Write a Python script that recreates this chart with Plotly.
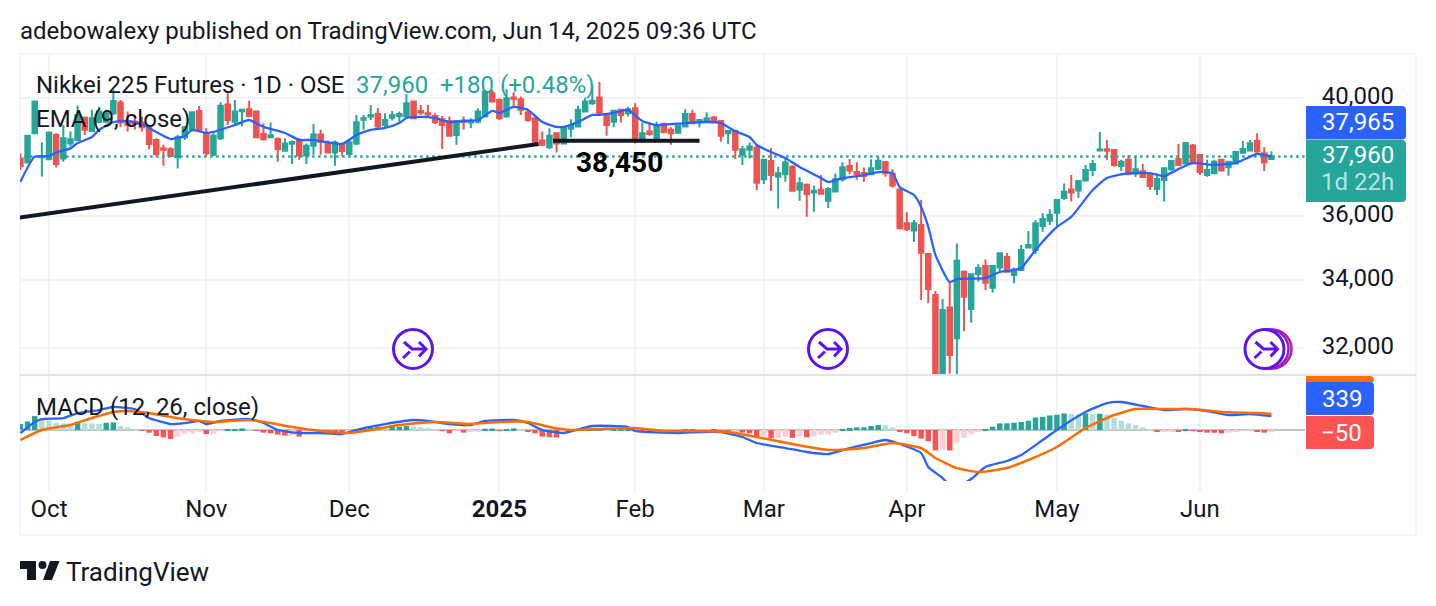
import plotly.graph_objects as go

# daily bars (log price scale)
opens = [37900, 37760, 38760, 37940, 37870, 38700, 37900, 38410, 38530, 39300,
         38840, 39160, 39160, 39460, 39840, 39160, 39160, 39130, 38970, 38530,
         38240, 38210, 37940, 38620, 38910, 39540, 38760, 38020, 38590, 39770,
         39160, 39530, 39600, 39520, 38730, 38620, 38560, 38160, 38400, 38490,
         38000, 38330, 38720, 38410, 38100, 38380, 38050, 38410, 39230, 39340,
         39430, 39050, 39300, 39360, 39340, 39870, 39540, 39460, 39360, 39250,
         39190, 38700, 39200, 39130, 39160, 39340, 40170, 39930, 39340, 40020,
         39950, 39480, 39280, 38510, 38280, 38760, 38410, 38920, 38990, 39520,
         39810, 40020, 39410, 39160, 39580, 39460, 39630, 38590, 38820, 38590,
         39080, 38880, 38780, 38990, 39430, 39160, 39160, 39310, 39190, 38760,
         38840, 38020, 38190, 38270, 37200, 37810, 37280, 37370, 37620, 36850,
         37020, 36760, 36850, 36490, 36800, 37200, 37640, 37440, 37410, 37370,
         37550, 37780, 37380, 36860, 35765, 35540, 35710, 34800, 33550, 31000,
         33180, 32280, 34250, 33130, 34185, 34425, 33770, 34385, 34710, 34150,
         34305, 35005, 34925, 35680, 35850, 36105, 36580, 36865, 36825, 37155,
         37510, 38165, 38210, 38185, 37640, 37850, 37385, 37470, 37340, 36880,
         37175, 37530, 37880, 37725, 38340, 38015, 37340, 37400, 37850, 37600,
         37725, 38095, 38165, 38495, 38075, 37880]
highs = [38070, 38710, 39900, 38450, 38820, 38760, 39050, 38820, 39730, 39340,
         39580, 39690, 39580, 40290, 39930, 39520, 39400, 39340, 39010, 38590,
         38360, 38280, 38700, 39010, 39520, 39720, 38930, 38760, 39850, 40170,
         39930, 39600, 39900, 39550, 39110, 39130, 38620, 38590, 38510, 38590,
         38410, 39080, 38880, 38510, 38510, 38440, 38550, 39400, 39400, 39750,
         39630, 39460, 39540, 39520, 40130, 39900, 39750, 39750, 39460, 39360,
         39340, 39220, 39340, 39280, 39630, 40290, 40290, 39990, 40310, 40200,
         40050, 39600, 39300, 38820, 38930, 38780, 39010, 39250, 39720, 40010,
         40460, 40570, 39440, 39580, 39610, 39690, 39810, 39130, 39130, 39160,
         39130, 38970, 39050, 39600, 39580, 39220, 39490, 39360, 39200, 38840,
         38880, 38320, 38440, 38380, 37870, 38240, 37620, 37900, 37680, 37270,
         37060, 36990, 37340, 36940, 37390, 37770, 37880, 37770, 37590, 37870,
         37960, 37800, 37530, 36890, 36120, 35870, 36520, 34820, 33670, 33430,
         33915, 35130, 34290, 34175, 34480, 34630, 34430, 34820, 34830, 34385,
         35080, 35520, 35870, 36085, 36215, 36545, 37060, 37340, 37145, 37680,
         37846, 38800, 38525, 38185, 37850, 38015, 37960, 37715, 37395, 37395,
         37565, 37815, 38390, 38445, 38390, 38050, 37850, 37850, 37850, 37790,
         38115, 38495, 38530, 38760, 38280, 38145]
lows = [37510, 37730, 38740, 37290, 37850, 37590, 37790, 38300, 38530, 38700,
        38840, 39110, 39110, 39400, 38970, 38820, 38880, 38820, 38210, 37980,
        37650, 37960, 37560, 38530, 38820, 38820, 37960, 37980, 38530, 39050,
        39080, 38990, 39340, 38590, 38510, 38620, 37790, 38140, 37710, 37850,
        37710, 38020, 38020, 38090, 37650, 37980, 37960, 38350, 38880, 39220,
        38930, 38970, 39200, 39160, 39280, 39260, 39400, 39340, 39080, 38220,
        38670, 38360, 38880, 38930, 39110, 39340, 39840, 39220, 39300, 39630,
        39400, 39160, 38320, 38320, 38220, 38100, 38390, 38620, 38970, 39500,
        39750, 39400, 38670, 38970, 39130, 39340, 38410, 38450, 38670, 38570,
        38760, 38360, 38760, 38970, 39080, 38970, 39130, 39140, 38470, 38390,
        37880, 37680, 37900, 36845, 37040, 36810, 36240, 37120, 36810, 36490,
        35980, 36140, 36710, 36260, 36770, 37120, 37370, 37180, 37120, 37340,
        37510, 37280, 36920, 35580, 35520, 35175, 33400, 33300, 30700, 30500,
        31280, 31000, 32490, 32730, 33950, 33700, 33620, 34260, 34255, 33900,
        34305, 34985, 34800, 35500, 35710, 35660, 36530, 36465, 36580, 37155,
        37310, 38165, 37850, 37620, 37475, 37365, 37275, 37275, 36845, 36680,
        36465, 37475, 37680, 37700, 37725, 37340, 37285, 37375, 37490, 37320,
        37715, 38095, 38140, 38095, 37475, 37850]
closes = [37640, 38670, 39870, 37980, 38780, 37710, 38590, 38550, 39400, 38880,
          39280, 39520, 39460, 39890, 39130, 39050, 39080, 38970, 38390, 38050,
          38190, 37980, 38620, 38970, 39490, 38880, 38070, 38670, 39720, 39220,
          39520, 39580, 39360, 38620, 38550, 38690, 38220, 38410, 38460, 38000,
          38330, 38720, 38460, 38100, 38440, 38150, 38450, 39140, 39280, 39400,
          38990, 39220, 39390, 39430, 39810, 39280, 39480, 39410, 39140, 39050,
          38670, 39190, 39150, 39200, 39520, 40220, 39870, 39280, 39990, 39960,
          39580, 39220, 38470, 38360, 38670, 38410, 38970, 39010, 39580, 39870,
          39900, 39460, 39050, 39550, 39400, 39600, 38530, 38760, 38730, 39050,
          38800, 38760, 39010, 39430, 39110, 39220, 39280, 39160, 38670, 38840,
          38190, 38210, 38300, 37085, 37850, 37340, 37400, 37760, 36820, 37070,
          36710, 36820, 36720, 36880, 37200, 37600, 37490, 37370, 37310, 37570,
          37820, 37400, 36990, 35605, 35575, 35765, 34840, 33730, 31000, 33100,
          31800, 34590, 33500, 34175, 34365, 33920, 34425, 34820, 34255, 34325,
          34925, 35080, 35765, 35900, 36030, 36520, 36790, 36760, 37145, 37510,
          37710, 38205, 38160, 37680, 37790, 37365, 37535, 37275, 36975, 37210,
          37565, 37815, 37680, 38420, 37725, 37445, 37510, 37790, 37490, 37790,
          38115, 38220, 38415, 38130, 37760, 37960]
bars = list(range(len(closes)))

# EMA 9, read at the bars where the line bends
ema_bars = [0, 2, 4, 5, 7, 8, 10, 11, 13, 15, 17, 19, 21, 23, 24, 26, 27, 30, 32, 34,
            37, 39, 41, 45, 47, 49, 51, 53, 54, 56, 58, 60, 62, 64, 66, 67, 69, 71, 73, 75,
            76, 78, 80, 81, 83, 85, 87, 89, 93, 96, 98, 100, 102, 103, 105, 107, 109, 112, 113, 115,
            118, 120, 122, 123, 125, 126, 127, 128, 130, 131, 135, 137, 139, 140, 142, 145, 147, 150, 152, 155,
            158, 160, 162, 164, 167, 170, 173, 174, 175]
ema_vals = [37120, 37960, 37975, 38100, 38240, 38420, 38630, 38875, 39150, 39185, 39080, 38800, 38560, 38665, 38875, 38770, 38805, 39045, 39220, 38980,
            38770, 38530, 38530, 38390, 38700, 38875, 38945, 39115, 39290, 39330, 39290, 39150, 39185, 39220, 39540, 39470, 39680, 39575, 39150, 38980,
            38980, 39150, 39400, 39400, 39470, 39575, 39185, 39045, 39115, 39150, 39115, 38830, 38630, 38355, 38115, 37915, 37610, 37240, 37110, 37240,
            37340, 37440, 37405, 36940, 36680, 36290, 35650, 34770, 33940, 34030, 34060, 34245, 34305, 34365, 34925, 35650, 35970, 36845, 37240, 37405,
            37405, 37305, 37540, 37745, 37680, 37745, 38050, 38015, 37965]

# MACD pane
hist = [144, 208, 336, 240, 224, 176, 160, 156, 200, 160,
        156, 152, 176, 184, 96, 64, 24, -24, -64, -144,
        -176, -216, -160, -96, -80, -48, -96, -88, -16, 16,
        24, 40, 16, -16, -64, -80, -112, -136, -132, -160,
        -80, -24, -8, -48, -64, -96, -24, 16, 24, 64,
        80, 64, 72, 80, 96, 80, 64, 48, 8, -8,
        -80, -16, -64, -32, -30, 32, 34, -8, 24, 40,
        16, -48, -80, -160, -176, -178, -96, -40, 0, 16,
        18, 24, 8, 24, 32, 34, -24, -64, -66, -48,
        -40, -48, -16, 16, 24, 16, -16, 16, -48, -64,
        -48, -64, -80, -160, -144, -192, -190, -160, -192, -160,
        -176, -144, -112, -110, -64, 16, 48, 64, 66, 96,
        120, 112, 64, -32, -80, -144, -208, -272, -496, -480,
        -496, -304, -192, -112, -48, 24, 80, 160, 162, 176,
        192, 224, 304, 320, 352, 368, 400, 392, 376, 400,
        384, 392, 376, 304, 224, 160, 120, 64, 16, -32,
        -30, -28, -48, 16, -16, -48, -64, -66, -80, -64,
        -48, -24, -16, -32, -64, -50]
macd_bars = [0, 2, 3, 6, 8, 11, 13, 16, 18, 21, 23, 25, 26, 28, 32, 34, 36, 39, 42, 45,
             48, 51, 55, 57, 60, 63, 65, 69, 71, 73, 76, 80, 85, 86, 92, 95, 98, 101, 103, 107,
             110, 113, 116, 119, 121, 123, 126, 127, 129, 130, 131, 133, 135, 138, 140, 143, 146, 149, 152, 154,
             157, 160, 163, 166, 169, 172, 175]
macd_vals = [-73, 194, 266, 290, 411, 484, 557, 508, 290, 145, 169, 218, 145, 218, 266, 169, 0, -73, -73, -97,
             48, 145, 242, 218, 145, 121, 218, 242, 169, 0, -73, 97, 73, -24, -73, -48, -48, -169, -315, -436,
             -532, -581, -436, -315, -242, -339, -557, -895, -1162, -1330, -1380, -1186, -895, -750, -605, -242, 121, 436, 653, 678,
             581, 484, 508, 460, 363, 387, 339]
signal_bars = [0, 3, 7, 10, 13, 15, 18, 21, 24, 27, 32, 35, 38, 42, 46, 49, 53, 58, 63, 67,
               71, 74, 77, 81, 86, 90, 95, 99, 103, 108, 113, 118, 122, 126, 128, 131, 134, 138, 141, 145,
               149, 153, 156, 160, 164, 168, 173, 175]
signal_vals = [-242, 0, 121, 290, 436, 460, 411, 315, 242, 194, 242, 169, 73, -24, -73, 0, 121, 194, 145, 194,
               194, 73, 0, 24, 48, -24, -24, -48, -169, -339, -484, -436, -315, -436, -678, -920, -1016, -920, -726, -411,
               48, 363, 508, 508, 508, 436, 411, 389]

# drawn trend lines
trend_bars = [-1, 72.5]
trend_vals = [35920, 38390]
level_bars = [74.5, 95]
level_vals = [38505, 38505]

tick_bars = [4, 26, 46, 67, 86, 104, 124, 145, 165]
tick_labels = ["Oct", "Nov", "Dec", "<b>2025</b>", "Feb", "Mar", "Apr", "May", "Jun"]
price_ticks = [32000, 34000, 36000, 40000]
last_price = 37960

W, H = 1436, 606
UP, DOWN = "#26a69a", "#ef5350"
INK = "#131722"
GRID = "#f2f3f7"
BLUE = "#2962ff"
ORANGE = "#ff6d00"
FONT = "Roboto"


# the page keeps its 8px body margin, so pixel positions are taken back by 8
def px(x):
    return (x - 8) / W


def py(y):
    return 1 - (y - 8) / H


hist_colors = []
for i, v in enumerate(hist):
    prev = hist[i - 1] if i else 0
    if v >= 0:
        hist_colors.append(UP if v >= prev else "#b2dfdb")
    else:
        hist_colors.append("#ff5252" if v <= prev else "#ffcdd2")

fig = go.Figure()
fig.add_trace(go.Scatter(x=[-2, 186], y=[last_price, last_price], mode="lines",
                         line=dict(color=UP, width=2.5, dash="2.5px,3.5px"), xaxis="x", yaxis="y"))
fig.add_trace(go.Candlestick(x=bars, open=opens, high=highs, low=lows, close=closes,
                             increasing=dict(line=dict(color=UP, width=2), fillcolor=UP),
                             decreasing=dict(line=dict(color=DOWN, width=2), fillcolor=DOWN),
                             whiskerwidth=0, xaxis="x", yaxis="y"))
fig.add_trace(go.Scatter(x=ema_bars, y=ema_vals, mode="lines",
                         line=dict(color=BLUE, width=2.3, shape="spline", smoothing=0.5), xaxis="x", yaxis="y"))
for xs, ys in [(trend_bars, trend_vals), (level_bars, level_vals)]:
    fig.add_trace(go.Scatter(x=xs, y=ys, mode="lines", line=dict(color=INK, width=4),
                             xaxis="x", yaxis="y"))
fig.add_trace(go.Bar(x=bars, y=hist, marker=dict(color=hist_colors, line=dict(width=0)), width=0.76,
                     xaxis="x2", yaxis="y2"))
fig.add_trace(go.Scatter(x=macd_bars, y=macd_vals, mode="lines",
                         line=dict(color=BLUE, width=2.3, shape="spline", smoothing=0.5), xaxis="x2", yaxis="y2"))
fig.add_trace(go.Scatter(x=signal_bars, y=signal_vals, mode="lines",
                         line=dict(color=ORANGE, width=2.5, shape="spline", smoothing=0.5), xaxis="x2", yaxis="y2"))

shapes = []


def rect(x0, y0, x1, y1, color, width=1.5, fill=None):
    shapes.append(dict(type="rect", xref="paper", yref="paper", x0=px(x0), x1=px(x1), y0=py(y0), y1=py(y1),
                       line=dict(color=color, width=width), fillcolor=fill, layer="below"))


def badge(x0, y0, x1, y1, color, r=4):
    # left side square, right side rounded, like the price scale labels
    path = (f"M{px(x0)},{py(y0)} L{px(x1 - r)},{py(y0)} Q{px(x1)},{py(y0)} {px(x1)},{py(y0 + r)} "
            f"L{px(x1)},{py(y1 - r)} Q{px(x1)},{py(y1)} {px(x1 - r)},{py(y1)} L{px(x0)},{py(y1)} Z")
    shapes.append(dict(type="path", xref="paper", yref="paper", path=path, fillcolor=color,
                       line=dict(width=0), layer="above"))


def polyline(points, color, width=3, closed=False):
    path = "M" + " L".join(f"{px(x)},{py(y)}" for x, y in points) + (" Z" if closed else "")
    shapes.append(dict(type="path", xref="paper", yref="paper", path=path, layer="above",
                       fillcolor=color if closed else None, line=dict(color=color, width=width)))


def circle(cx, cy, r, color, width=3):
    shapes.append(dict(type="circle", xref="paper", yref="paper", x0=px(cx - r), x1=px(cx + r),
                       y0=py(cy + r), y1=py(cy - r), fillcolor="white",
                       line=dict(color=color, width=width), layer="above"))


def session_icon(cx, cy, color="#5c12f2"):
    circle(cx, cy, 19.5, color)
    polyline([(cx - 9, cy - 7), (cx - 1, cy), (cx + 12, cy)], color)
    polyline([(cx + 6, cy - 7), (cx + 13, cy), (cx + 6, cy + 7.5)], color)
    polyline([(cx - 10, cy + 9), (cx - 3, cy + 2.5)], color)


rect(20, 54, 1416, 535, "#f0f3fa")
shapes.append(dict(type="line", xref="paper", yref="paper", x0=px(20), x1=px(1416), y0=py(375), y1=py(375),
                   line=dict(color="#e0e3eb", width=2), layer="above"))

circle(1272, 349, 19.5, "#c2189a", width=2.5)
circle(1269, 349, 19.5, "#8e20c8", width=2.5)
session_icon(1264.5, 349)
session_icon(413, 349)
session_icon(828, 349)

badge(1306, 106, 1406, 139.5, BLUE)
badge(1306, 140, 1406, 202, UP)
badge(1306, 376, 1374, 383, ORANGE)
badge(1306, 382, 1374, 415, BLUE)
badge(1306, 416, 1374, 449, "#ff5252")

# logo
polyline([(20, 561), (36, 561), (36, 580), (27, 580), (27, 569), (20, 569)], INK, width=0, closed=True)
polyline([(50, 561), (59.5, 561), (52, 580), (43, 580)], INK, width=0, closed=True)
shapes.append(dict(type="circle", xref="paper", yref="paper", x0=px(38.5), x1=px(46.5), y0=py(569), y1=py(561),
                   fillcolor=INK, line=dict(width=0), layer="above"))

notes = []


def label(x, y, text, size=24, color=INK, anchor="left"):
    # annotations carry about 2px of padding
    x = x - 2 if anchor == "left" else x + 2 if anchor == "right" else x
    notes.append(dict(x=px(x), y=py(y), xref="paper", yref="paper", text=text, showarrow=False,
                      xanchor=anchor, yanchor="middle", font=dict(family=FONT, size=size, color=color)))


label(20, 31, "adebowalexy published on TradingView.com, Jun 14, 2025 09:36 UTC", size=24)
label(36, 85, "Nikkei 225 Futures · 1D · OSE", size=24)
label(356, 85, "37,960", size=24, color=UP)
label(440, 85, "+180 (+0.48%)", size=24, color=UP)
label(36, 119, "EMA (9, close)", size=24)
label(36, 407, "MACD (12, 26, close)", size=24)
label(619, 162, "<b>38,450</b>", size=28, color="#000000", anchor="center")
label(1394, 122, "37,965", size=24, color="white", anchor="right")
label(1394, 155, "37,960", size=24, color="white", anchor="right")
label(1394, 182, "1d 22h", size=24, color="#b8e4de", anchor="right")
label(1362, 399, "339", size=24, color="white", anchor="right")
label(1362, 433, "−50", size=24, color="white", anchor="right")
label(66, 572, "TradingView", size=26)

fig.update_layout(
    width=W, height=H, autosize=False, margin=dict(l=0, r=0, t=0, b=0, pad=0),
    paper_bgcolor="white", plot_bgcolor="white", showlegend=False, boxgap=0.1, boxmode="overlay",
    font=dict(family=FONT, color=INK), shapes=shapes, annotations=notes,
    xaxis=dict(domain=[px(20), px(1305)], range=[-0.06, 179.7], anchor="y", rangeslider=dict(visible=False),
               tickvals=tick_bars, showticklabels=False, showgrid=True, gridcolor=GRID, gridwidth=2,
               zeroline=False, showline=False, ticks=""),
    yaxis=dict(domain=[py(375), py(54)], type="log", range=[4.49467, 4.6191], side="right", anchor="x",
               tickvals=price_ticks, tickformat=",d", showgrid=True, gridcolor=GRID, gridwidth=2,
               zeroline=False, showline=False, ticks="outside", ticklen=11, tickcolor="rgba(0,0,0,0)",
               ticklabelshift=-2, tickfont=dict(family=FONT, size=24, color=INK)),
    xaxis2=dict(domain=[px(20), px(1305)], range=[-0.06, 179.7], anchor="y2",
                tickvals=tick_bars, ticktext=tick_labels, showgrid=True, gridcolor=GRID, gridwidth=2,
                zeroline=False, showline=False, ticks="outside", ticklen=9, tickwidth=2, tickcolor=GRID,
                ticklabelstandoff=-3, tickfont=dict(family=FONT, size=24, color=INK)),
    yaxis2=dict(domain=[py(481), py(376)], range=[-1234, 1307], anchor="x2", side="right",
                showticklabels=False, showgrid=False, zeroline=True, zerolinecolor="#c4c4c4", zerolinewidth=2,
                showline=False),
)

fig.write_html("out.html")
